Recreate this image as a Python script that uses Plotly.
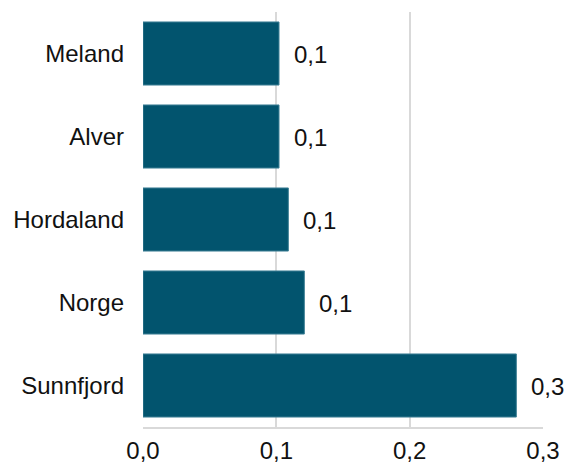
import plotly.graph_objects as go

# data
kommuner = ["Meland", "Alver", "Hordaland", "Norge", "Sunnfjord"]
verdier = [0.102, 0.102, 0.109, 0.121, 0.280]
x_ticks = [0.0, 0.1, 0.2, 0.3]

bar_color = "#02546e"
grid_color = "#d9d9d9"
font_family = "Liberation Sans, Arial, sans-serif"

fig = go.Figure()
fig.add_trace(go.Bar(
    x=verdier,
    y=kommuner,
    orientation="h",
    marker=dict(color=bar_color, line=dict(color="#3f8096", width=1)),
    hoverinfo="skip",
))

# value labels to the right of each bar
for k, v in zip(kommuner, verdier):
    fig.add_annotation(
        x=v, y=k, text=f"{v:.1f}".replace(".", ","),
        showarrow=False, xanchor="left", yanchor="middle", xshift=13, yshift=-1,
        font=dict(size=24, color="#111", family=font_family),
    )

fig.update_layout(
    width=566, height=468,
    margin=dict(l=143, r=23, t=12, b=41),
    plot_bgcolor="white", paper_bgcolor="white",
    separators=", ",
    bargap=0.24,
    showlegend=False,
    font=dict(family=font_family, size=24, color="#111"),
)
fig.update_xaxes(
    range=[0, 0.3], tickvals=x_ticks, tickformat=".1f",
    showgrid=True, gridcolor=grid_color, gridwidth=1.5,
    zeroline=False, showline=True, linecolor=grid_color, linewidth=1.5,
    ticks="", ticklabelstandoff=1, automargin=False,
)
fig.update_yaxes(
    autorange="reversed", showgrid=False, zeroline=False,
    ticks="", ticklabelstandoff=18, automargin=False,
)

# drop the default page margin so the figure fills the window, no modebar
fig.write_html("out.html", config={"displayModeBar": False},
               post_script="document.body.style.margin = '0';")
